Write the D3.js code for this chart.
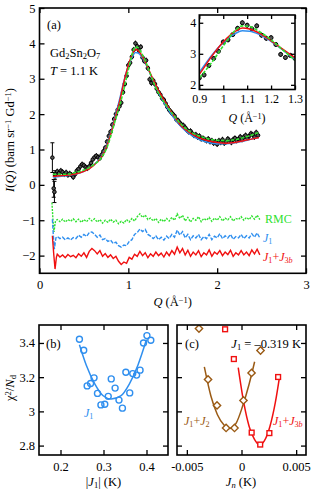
<!DOCTYPE html>
<html>
<head>
<meta charset="UTF-8">
<title>Gd2Sn2O7 I(Q)</title>
<script src="https://d3js.org/d3.v7.min.js"></script>
<style>
  body { margin: 0; background: #fff; }
  svg { display: block; font-family: "Liberation Serif", "Times New Roman", serif; }
  .frame { fill: none; stroke: #000; stroke-width: 1.6px; }
  .tick line { stroke: #000; stroke-width: 1.3px; }
  .tick text { font-size: 12.5px; fill: #000; font-family: "Liberation Serif", serif; }
</style>
</head>
<body>
<svg width="315" height="494"></svg>
<script>
// ---- panel (a): measured I(Q) ----
const lowQPts = [[0.145, 0.77, 0.42], [0.16, -0.10, 0.25], [0.168, -0.20, 0.30], [0.175, 0.28, 0.12]];
const dataPts = [
  [0.18,0.30],[0.20,0.38],[0.22,0.33],[0.24,0.40],[0.26,0.36],[0.28,0.30],[0.30,0.35],[0.32,0.28],
  [0.34,0.32],[0.36,0.28],[0.38,0.22],[0.40,0.30],[0.42,0.40],[0.44,0.45],[0.46,0.52],[0.48,0.58],
  [0.50,0.55],[0.52,0.50],[0.54,0.47],[0.56,0.52],[0.58,0.62],[0.60,0.72],[0.62,0.78],[0.64,0.82],
  [0.66,0.78],[0.68,0.76],[0.70,0.85],[0.72,0.95],[0.74,1.05],[0.76,1.22],[0.78,1.38],[0.80,1.50],
  [0.82,1.70],[0.84,1.86],[0.86,2.00],[0.88,2.12],[0.90,2.22],[0.92,2.32],[0.94,2.62],[0.96,2.85],
  [0.98,3.08],[1.00,3.38],[1.02,3.45],[1.04,3.62],[1.06,3.82],[1.08,4.00],[1.10,3.92],[1.12,3.80],
  [1.14,3.90],[1.16,3.60],[1.18,3.50],[1.20,3.52],[1.22,3.30],[1.24,2.98],[1.26,2.88],[1.28,2.95],
  [1.30,2.85],[1.32,2.72],[1.34,2.62],[1.36,2.55],[1.38,2.45],[1.40,2.40],[1.42,2.30],[1.44,2.20],
  [1.46,2.12],[1.48,2.06],[1.50,2.00],[1.52,1.95],[1.54,1.85],[1.56,1.82],[1.58,1.75],[1.60,1.70],
  [1.62,1.68],[1.64,1.62],[1.66,1.55],[1.68,1.50],[1.70,1.52],[1.72,1.45],[1.74,1.40],[1.76,1.42],
  [1.78,1.35],[1.80,1.38],[1.82,1.30],[1.84,1.32],[1.86,1.28],[1.88,1.25],[1.90,1.30],[1.92,1.22],
  [1.94,1.25],[1.96,1.18],[1.98,1.22],[2.00,1.15],[2.02,1.25],[2.04,1.20],[2.06,1.28],[2.08,1.18],
  [2.10,1.22],[2.12,1.30],[2.14,1.25],[2.16,1.20],[2.18,1.28],[2.20,1.32],[2.22,1.25],[2.24,1.30],
  [2.26,1.36],[2.28,1.28],[2.30,1.35],[2.32,1.40],[2.34,1.32],[2.36,1.38],[2.38,1.45],[2.40,1.42],
  [2.42,1.35],[2.44,1.48],[2.46,1.40]
];
const dataErr = 0.08;

// model curves
const qModel   = [0.15,0.2,0.3,0.4,0.5,0.6,0.7,0.75,0.8,0.85,0.9,0.95,1.0,1.05,1.08,1.11,1.15,1.2,1.25,1.3,1.35,1.4,1.5,1.6,1.7,1.8,1.9,2.0,2.1,2.2,2.3,2.4,2.47];
const iJ1J3b   = [0.24,0.25,0.27,0.31,0.38,0.53,0.80,1.05,1.42,1.88,2.34,2.90,3.38,3.72,3.83,3.80,3.67,3.42,3.14,2.87,2.62,2.40,2.00,1.66,1.46,1.33,1.25,1.20,1.18,1.20,1.25,1.30,1.34];
const iJ1      = [0.22,0.23,0.26,0.30,0.38,0.54,0.82,1.08,1.45,1.92,2.40,2.93,3.36,3.65,3.74,3.73,3.63,3.40,3.12,2.83,2.56,2.33,1.94,1.63,1.42,1.28,1.20,1.16,1.16,1.19,1.24,1.30,1.34];
const iRMC     = [0.30,0.30,0.30,0.35,0.42,0.55,0.78,1.00,1.36,1.80,2.22,2.70,3.25,3.75,3.90,3.88,3.72,3.45,3.12,2.80,2.55,2.35,2.00,1.70,1.50,1.38,1.30,1.26,1.25,1.28,1.34,1.42,1.48];

// residuals (data - fit, offset)
const resQ = [0.20,0.23,0.26,0.29,0.32,0.35,0.38,0.41,0.44,0.47,0.50,0.53,0.56,0.59,0.62,0.65,0.68,0.71,0.74,0.77,
  0.80,0.83,0.86,0.89,0.92,0.95,0.98,1.01,1.04,1.07,1.10,1.13,1.16,1.19,1.22,1.25,1.28,1.31,1.34,1.37,
  1.40,1.43,1.46,1.49,1.52,1.55,1.58,1.61,1.64,1.67,1.70,1.73,1.76,1.79,1.82,1.85,1.88,1.91,1.94,1.97,
  2.00,2.03,2.06,2.09,2.12,2.15,2.18,2.21,2.24,2.27,2.30,2.33,2.36,2.39,2.42,2.45,2.48];
const resRMC = [-0.98,-1.04,-0.97,-1.05,-0.98,-1.03,-0.96,-1.04,-0.97,-1.06,-0.98,-1.04,-0.95,-1.02,-0.96,-1.05,-0.98,-1.08,-1.00,-1.06,
  -0.97,-1.05,-1.00,-1.10,-1.03,-1.08,-0.98,-1.05,-0.95,-1.02,-0.90,-0.82,-0.92,-0.85,-0.98,-0.94,-1.02,-0.95,-1.06,-0.97,
  -1.04,-0.95,-1.02,-0.92,-1.00,-0.82,-0.95,-0.86,-1.02,-0.92,-1.05,-0.95,-1.00,-0.90,-1.04,-0.95,-1.00,-0.92,-1.03,-0.94,
  -1.00,-0.90,-1.02,-0.94,-0.99,-0.90,-1.02,-0.95,-0.98,-0.90,-1.00,-0.92,-0.98,-0.88,-0.97,-0.86,-0.98];
const resJ1 = [-1.46,-1.52,-1.48,-1.55,-1.50,-1.56,-1.49,-1.52,-1.42,-1.48,-1.40,-1.46,-1.35,-1.33,-1.40,-1.48,-1.42,-1.55,-1.52,-1.60,
  -1.56,-1.66,-1.62,-1.72,-1.76,-1.70,-1.72,-1.60,-1.55,-1.40,-1.35,-1.25,-1.32,-1.26,-1.40,-1.45,-1.52,-1.44,-1.55,-1.48,
  -1.56,-1.45,-1.52,-1.40,-1.48,-1.28,-1.42,-1.32,-1.50,-1.40,-1.55,-1.44,-1.50,-1.40,-1.55,-1.46,-1.52,-1.40,-1.55,-1.45,
  -1.50,-1.38,-1.52,-1.44,-1.50,-1.40,-1.54,-1.46,-1.50,-1.40,-1.52,-1.44,-1.50,-1.38,-1.48,-1.36,-1.50];
const resJ1J3b = [-1.96,-2.04,-1.98,-2.06,-1.97,-2.03,-1.99,-2.06,-1.95,-2.02,-1.92,-2.05,-1.88,-1.80,-1.86,-1.95,-1.86,-2.02,-1.94,-2.05,
  -1.98,-2.08,-2.02,-2.16,-2.25,-2.18,-2.22,-2.05,-2.10,-1.96,-2.02,-1.88,-2.00,-1.92,-2.06,-1.95,-2.02,-1.90,-2.00,-1.93,
  -2.04,-1.90,-2.00,-1.86,-1.96,-1.76,-1.92,-1.80,-1.98,-1.85,-2.02,-1.90,-1.98,-1.86,-2.03,-1.92,-1.98,-1.84,-2.02,-1.90,
  -1.96,-1.86,-2.00,-1.90,-1.97,-1.85,-2.02,-1.92,-1.98,-1.86,-1.98,-1.90,-2.00,-1.84,-1.95,-1.82,-1.98];
const resHeadRMC   = [[0.14,-0.50],[0.152,-1.00],[0.163,-1.33],[0.18,-1.02]];
const resHeadJ1    = [[0.145,-0.97],[0.155,-1.40],[0.167,-1.82],[0.185,-1.50]];
const resHeadJ1J3b = [[0.145,-1.44],[0.16,-1.95],[0.175,-2.38],[0.19,-2.05]];

// ---- panel (b): chi^2 vs |J1| ----
const bJ   = [0.244,0.254,0.262,0.270,0.278,0.286,0.294,0.303,0.311,0.318,0.327,0.336,0.344,0.352,0.361,0.368,0.377,0.385,0.393,0.401,0.410];
const bChi = [3.422,3.357,3.149,3.163,3.196,3.105,3.038,3.042,3.088,3.190,3.136,3.066,3.019,3.229,3.108,3.221,3.212,3.241,3.400,3.443,3.416];
const bFitJ   = [0.244,0.26,0.28,0.30,0.318,0.34,0.36,0.38,0.40];
const bFitChi = [3.39,3.27,3.16,3.09,3.072,3.09,3.16,3.27,3.42];

// ---- panel (c): chi^2 vs Jn ----
const j2J   = [-0.00389,-0.00306,-0.00224,-0.00141,-0.00064,0.00018,0.00092,0.00174];
const j2Chi = [3.484,3.187,3.035,2.903,2.903,3.064,3.225,3.356];
const j2FitJ   = [-0.0034,-0.0028,-0.0022,-0.0016,-0.0011,-0.0005,0.0001,0.0007,0.0012];
const j2FitChi = [3.26,3.09,2.98,2.92,2.90,2.93,3.03,3.16,3.29];
const j3J   = [-0.00150,-0.00070,0.00093,0.00171,0.00255,0.00335];
const j3Chi = [3.480,3.306,2.876,2.806,2.873,3.201];
const j3FitJ   = [-0.0003,0.0002,0.0007,0.0012,0.00165,0.0021,0.0026,0.0031,0.0035];
const j3FitChi = [3.256,3.054,2.912,2.835,2.805,2.829,2.912,3.054,3.211];

const GREEN = '#2fe12f', BLUE = '#2f8fef', RED = '#f01010', BROWN = '#9a5a14';
const SERIF = '"Liberation Serif", "Times New Roman", serif';

const svg = d3.select('svg');

// text with italic / sub / sup pieces
function rich(g, x, y, parts, size, color, anchor) {
  const t = g.append('text').attr('x', x).attr('y', y)
    .attr('font-size', size).attr('fill', color || '#000')
    .attr('font-family', SERIF)
    .attr('text-anchor', anchor || 'start');
  parts.forEach(p => {
    const s = t.append('tspan').text(p[0]);
    const st = p[1] || '';
    if (st.includes('i')) s.style('font-style', 'italic');
    if (st.includes('sub')) s.attr('baseline-shift', '-22%').attr('font-size', size * 0.68);
    if (st.includes('sup')) s.attr('baseline-shift', '38%').attr('font-size', size * 0.68);
  });
  return t;
}

function frameAxes(g, x, y, xt, yt, o) {
  const [x0, x1] = x.range(), [y1, y0] = y.range();
  const tl = o.tl || 5;
  g.append('g').attr('transform', `translate(0,${y1})`)
    .call(d3.axisBottom(x).tickValues(xt).tickSizeInner(-tl).tickSizeOuter(0).tickPadding(o.xpad || 6).tickFormat(o.xfmt || d3.format('')));
  g.append('g').attr('transform', `translate(0,${y0})`)
    .call(d3.axisTop(x).tickValues(xt).tickSizeInner(-tl).tickSizeOuter(0).tickFormat(''));
  g.append('g').attr('transform', `translate(${x0},0)`)
    .call(d3.axisLeft(y).tickValues(yt).tickSizeInner(-tl).tickSizeOuter(0).tickPadding(o.ypad || 4).tickFormat(o.yfmt || d3.format('')));
  g.append('g').attr('transform', `translate(${x1},0)`)
    .call(d3.axisRight(y).tickValues(yt).tickSizeInner(-tl).tickSizeOuter(0).tickFormat(''));
  g.selectAll('.domain').remove();
  g.selectAll('.tick text').attr('font-family', SERIF).style('font-size', (o.fs || 12.5) + 'px');
  g.append('rect').attr('class', 'frame').attr('x', x0).attr('y', y0).attr('width', x1 - x0).attr('height', y1 - y0);
}

function clip(id, x, y) {
  const [x0, x1] = x.range(), [y1, y0] = y.range();
  svg.append('clipPath').attr('id', id).append('rect')
    .attr('x', x0).attr('y', y0).attr('width', x1 - x0).attr('height', y1 - y0);
}

// ================= panel (a) =================
const xA = d3.scaleLinear([0, 3], [39.5, 306]);
const yA = d3.scaleLinear([-2.5, 5], [273.3, 8]);
clip('clipA', xA, yA);
const gA = svg.append('g');
const plotA = gA.append('g').attr('clip-path', 'url(#clipA)');

const lineA = d3.line().x(d => xA(d[0])).y(d => yA(d[1])).curve(d3.curveMonotoneX);
const lineLin = d3.line().x(d => xA(d[0])).y(d => yA(d[1]));

// residuals
function resSeries(head, vals) { return head.concat(resQ.map((q, i) => [q, vals[i]])); }
plotA.append('path').attr('d', lineLin(resSeries(resHeadRMC, resRMC)))
  .attr('fill', 'none').attr('stroke', GREEN).attr('stroke-width', 1.4).attr('stroke-dasharray', '2,1.2');
plotA.append('path').attr('d', lineLin(resSeries(resHeadJ1, resJ1)))
  .attr('fill', 'none').attr('stroke', BLUE).attr('stroke-width', 1.4).attr('stroke-dasharray', '4,1.5');
plotA.append('path').attr('d', lineLin(resSeries(resHeadJ1J3b, resJ1J3b)))
  .attr('fill', 'none').attr('stroke', RED).attr('stroke-width', 1.4);

// data with error bars
const allPts = lowQPts.concat(dataPts.map(d => [d[0], d[1], dataErr]));
function drawData(g, x, y, pts, r) {
  const eb = g.append('g').attr('stroke', '#000').attr('stroke-width', 1);
  pts.forEach(d => {
    eb.append('line').attr('x1', x(d[0])).attr('x2', x(d[0])).attr('y1', y(d[1] - d[2])).attr('y2', y(d[1] + d[2]));
    if (d[2] > 0.1) {
      [d[1] - d[2], d[1] + d[2]].forEach(v => eb.append('line')
        .attr('x1', x(d[0]) - 2).attr('x2', x(d[0]) + 2).attr('y1', y(v)).attr('y2', y(v)));
    }
  });
  g.append('g').selectAll('circle').data(pts).join('circle')
    .attr('cx', d => x(d[0])).attr('cy', d => y(d[1])).attr('r', r)
    .attr('fill', '#555').attr('stroke', '#000').attr('stroke-width', 1);
}
drawData(plotA, xA, yA, allPts, 1.8);

function drawModels(g, line) {
  const mk = vals => qModel.map((q, i) => [q, vals[i]]);
  g.append('path').attr('d', line(mk(iJ1))).attr('fill', 'none').attr('stroke', BLUE).attr('stroke-width', 1.5);
  g.append('path').attr('d', line(mk(iJ1J3b))).attr('fill', 'none').attr('stroke', RED).attr('stroke-width', 1.5);
  g.append('path').attr('d', line(mk(iRMC))).attr('fill', 'none').attr('stroke', GREEN).attr('stroke-width', 1.6).attr('stroke-dasharray', '3.5,1.5');
}
drawModels(plotA, lineA);

frameAxes(gA, xA, yA, [0, 1, 2, 3], [-2, -1, 0, 1, 2, 3, 4, 5], { xpad: 7, ypad: 4 });

rich(gA, 47, 29, [['(a)']], 12.5);
rich(gA, 50, 57, [['Gd'], ['2', 'sub'], ['Sn'], ['2', 'sub'], ['O'], ['7', 'sub']], 12.5);
rich(gA, 50, 75, [['T', 'i'], [' = 1.1 K']], 12.5);
rich(gA, 265, 223, [['RMC']], 12, GREEN);
rich(gA, 263, 242, [['J', 'i'], ['1', 'sub']], 12, BLUE);
rich(gA, 263, 261, [['J', 'i'], ['1', 'sub'], ['+'], ['J', 'i'], ['3', 'sub'], ['b', 'isub']], 12, RED);
rich(gA, 172.7, 306, [['Q', 'i'], [' (Å'], ['−1', 'sup'], [')']], 12.5, '#000', 'middle');
rich(gA, 0, 0, [['I', 'i'], ['('], ['Q', 'i'], [') (barn sr'], ['−1', 'sup'], [' Gd'], ['−1', 'sup'], [')']], 12.5, '#000', 'middle')
  .attr('transform', 'translate(14,140) rotate(-90)');

// ---- inset ----
const xI = d3.scaleLinear([0.9, 1.3], [199.3, 295]);
const yI = d3.scaleLinear([1.85, 4.25], [89.5, 15]);
clip('clipI', xI, yI);
const gI = svg.append('g');
gI.append('rect').attr('x', 199.3).attr('y', 15).attr('width', 95.7).attr('height', 74.5).attr('fill', '#fff');
const plotI = gI.append('g').attr('clip-path', 'url(#clipI)');
const lineI = d3.line().x(d => xI(d[0])).y(d => yI(d[1])).curve(d3.curveMonotoneX);
drawData(plotI, xI, yI, allPts.filter(d => d[0] >= 0.88 && d[0] <= 1.32), 2);
drawModels(plotI, lineI);
frameAxes(gI, xI, yI, [0.9, 1.0, 1.1, 1.2, 1.3], [2, 3, 4],
  { tl: 4, xpad: 5, ypad: 3, fs: 12, xfmt: d => d === 1 ? '1' : d3.format('.1f')(d) });
rich(gI, 247, 122, [['Q', 'i'], [' (Å'], ['−1', 'sup'], [')']], 12, '#000', 'middle');

// ================= panel (b) =================
const xB = d3.scaleLinear([0.15, 0.45], [39, 168]);
const yB = d3.scaleLinear([2.745, 3.505], [455, 325]);
clip('clipB', xB, yB);
const gB = svg.append('g');
const plotB = gB.append('g').attr('clip-path', 'url(#clipB)');
const lineB = d3.line().x(d => xB(d[0])).y(d => yB(d[1])).curve(d3.curveMonotoneX);
plotB.append('path').attr('d', lineB(bFitJ.map((j, i) => [j, bFitChi[i]])))
  .attr('fill', 'none').attr('stroke', BLUE).attr('stroke-width', 1.5);
plotB.append('g').selectAll('circle').data(bJ).join('circle')
  .attr('cx', d => xB(d)).attr('cy', (d, i) => yB(bChi[i])).attr('r', 3)
  .attr('fill', 'none').attr('stroke', BLUE).attr('stroke-width', 1.4);
frameAxes(gB, xB, yB, [0.2, 0.3, 0.4], [2.8, 3.0, 3.2, 3.4],
  { xpad: 7, ypad: 4, xfmt: d3.format('.1f'), yfmt: d => d === 3 ? '3' : d3.format('.1f')(d) });
rich(gB, 46, 348, [['(b)']], 12.5);
rich(gB, 84, 417, [['J', 'i'], ['1', 'sub']], 12, BLUE);
rich(gB, 103.5, 486, [['|'], ['J', 'i'], ['1', 'sub'], ['| (K)']], 12.5, '#000', 'middle');
rich(gB, 0, 0, [['χ'], ['2', 'sup'], ['/'], ['N', 'i'], ['d', 'sub']], 12.5, '#000', 'middle')
  .attr('transform', 'translate(14,388) rotate(-90)');

// ================= panel (c) =================
const xC = d3.scaleLinear([-0.0059, 0.0059], [177, 306]);
const yC = yB.copy();
clip('clipC', xC, yC);
const gC = svg.append('g');
const plotC = gC.append('g').attr('clip-path', 'url(#clipC)');
const lineC = d3.line().x(d => xC(d[0])).y(d => yC(d[1])).curve(d3.curveMonotoneX);
plotC.append('path').attr('d', lineC(j2FitJ.map((j, i) => [j, j2FitChi[i]])))
  .attr('fill', 'none').attr('stroke', BROWN).attr('stroke-width', 1.5);
plotC.append('path').attr('d', lineC(j3FitJ.map((j, i) => [j, j3FitChi[i]])))
  .attr('fill', 'none').attr('stroke', RED).attr('stroke-width', 1.5);
plotC.append('g').selectAll('path').data(j2J).join('path')
  .attr('d', d3.symbol(d3.symbolDiamond2, 34))
  .attr('transform', (d, i) => `translate(${xC(d)},${yC(j2Chi[i])})`)
  .attr('fill', '#fff').attr('stroke', BROWN).attr('stroke-width', 1.4);
plotC.append('g').selectAll('rect').data(j3J).join('rect')
  .attr('x', d => xC(d) - 2.4).attr('y', (d, i) => yC(j3Chi[i]) - 2.4)
  .attr('width', 4.8).attr('height', 4.8)
  .attr('fill', '#fff').attr('stroke', RED).attr('stroke-width', 1.4);
frameAxes(gC, xC, yC, [-0.005, 0, 0.005], [2.8, 3.0, 3.2, 3.4],
  { xpad: 7, xfmt: d => d === 0 ? '0' : (d < 0 ? '-' : '') + d3.format('.3f')(Math.abs(d)), yfmt: () => '' });
rich(gC, 185, 348, [['(c)']], 12.5);
rich(gC, 301, 348, [['J', 'i'], ['1', 'sub'], [' = –0.319 K']], 12.5, '#000', 'end');
rich(gC, 184, 425, [['J', 'i'], ['1', 'sub'], ['+'], ['J', 'i'], ['2', 'sub']], 12, BROWN);
rich(gC, 273, 425, [['J', 'i'], ['1', 'sub'], ['+'], ['J', 'i'], ['3', 'sub'], ['b', 'isub']], 12, RED);
rich(gC, 241, 486, [['J', 'i'], ['n', 'isub'], [' (K)']], 12.5, '#000', 'middle');
</script>
</body>
</html>
